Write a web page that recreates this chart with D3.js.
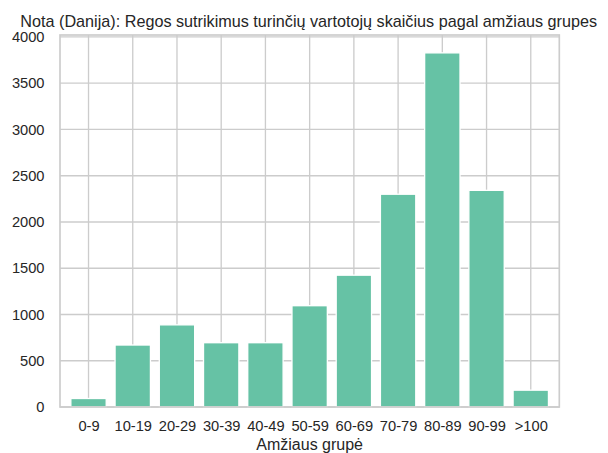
<!DOCTYPE html>
<html>
<head>
<meta charset="utf-8">
<script src="https://cdn.jsdelivr.net/npm/d3@7"></script>
<style>
  body { margin: 0; background: #fff; }
  svg { display: block; font-family: "Liberation Sans", Arial, sans-serif; }
</style>
</head>
<body>
<div class="chart"></div>
<script>
// Age groups and user counts
const GROUPS = ['0-9', '10-19', '20-29', '30-39', '40-49', '50-59', '60-69', '70-79', '80-89', '90-99', '>100']
const COUNTS = [92, 670, 888, 695, 695, 1095, 1425, 2300, 3828, 2342, 182]
const Y_TICKS = [0, 500, 1000, 1500, 2000, 2500, 3000, 3500, 4000]

const TITLE = 'Nota (Danija): Regos sutrikimus turinčių vartotojų skaičius pagal amžiaus grupes'
const X_LABEL = 'Amžiaus grupė'

const svgWidth = 608
const svgHeight = 453

const margin = { top: 35, bottom: 46, left: 60, right: 48.7 }
const width = svgWidth - margin.left - margin.right
const height = svgHeight - margin.top - margin.bottom

const GRID = '#cccccc'
const TEXT = '#262626'

var svg = d3.select('.chart')
    .append('svg')
    .attr('width', svgWidth)
    .attr('height', svgHeight)

var chartGroup = svg.append('g')
    .attr('transform', `translate(${margin.left}, ${margin.top})`)

// category index -> x, with the same padding matplotlib gave
var xScale = d3.scaleLinear()
    .domain([-0.645, GROUPS.length - 1 + 0.645])
    .range([0, width])

var yScale = d3.scaleLinear()
    .domain([0, 4021])
    .range([height, 0])

// grid
chartGroup.append('g')
    .selectAll('line')
    .data(Y_TICKS)
    .enter()
    .append('line')
    .attr('x1', 0)
    .attr('x2', width)
    .attr('y1', d => yScale(d))
    .attr('y2', d => yScale(d))
    .attr('stroke', GRID)
    .attr('stroke-width', 1.33)

chartGroup.append('g')
    .selectAll('line')
    .data(GROUPS)
    .enter()
    .append('line')
    .attr('x1', (d, i) => xScale(i))
    .attr('x2', (d, i) => xScale(i))
    .attr('y1', 0)
    .attr('y2', height)
    .attr('stroke', GRID)
    .attr('stroke-width', 1.33)

// bars
const barW = xScale(0.8) - xScale(0)
chartGroup.append('g')
    .selectAll('rect')
    .data(COUNTS)
    .enter()
    .append('rect')
    .attr('x', (d, i) => xScale(i) - barW / 2)
    .attr('y', d => yScale(d))
    .attr('width', barW)
    .attr('height', d => height - yScale(d))
    .attr('fill', '#66c2a5')
    .attr('stroke', '#ffffff')
    .attr('stroke-width', 1.33)

// spines
chartGroup.append('rect')
    .attr('x', 0)
    .attr('y', 0)
    .attr('width', width)
    .attr('height', height)
    .attr('fill', 'none')
    .attr('stroke', GRID)
    .attr('stroke-width', 1.67)

// axes (labels only, no tick marks)
var xAxis = chartGroup.append('g')
    .attr('transform', `translate(0, ${height})`)
    .call(d3.axisBottom(xScale)
        .tickValues(d3.range(GROUPS.length))
        .tickFormat(i => GROUPS[i])
        .tickSize(0)
        .tickPadding(14))
xAxis.select('.domain').remove()
xAxis.selectAll('text')
    .attr('fill', TEXT)
    .attr('font-size', '14.67px')
    .attr('font-family', '"Liberation Sans", Arial, sans-serif')

var yAxis = chartGroup.append('g')
    .call(d3.axisLeft(yScale)
        .tickValues(Y_TICKS)
        .tickFormat(d3.format('d'))
        .tickSize(0)
        .tickPadding(15.5))
yAxis.select('.domain').remove()
yAxis.selectAll('text')
    .attr('fill', TEXT)
    .attr('font-size', '14.67px')
    .attr('font-family', '"Liberation Sans", Arial, sans-serif')

// title and x label
svg.append('text')
    .attr('x', 308.7)
    .attr('y', 26.5)
    .attr('text-anchor', 'middle')
    .attr('font-size', '16.2px')
    .attr('fill', TEXT)
    .text(TITLE)

svg.append('text')
    .attr('x', margin.left + width / 2)
    .attr('y', 450)
    .attr('text-anchor', 'middle')
    .attr('font-size', '16px')
    .attr('fill', TEXT)
    .text(X_LABEL)
</script>
</body>
</html>
